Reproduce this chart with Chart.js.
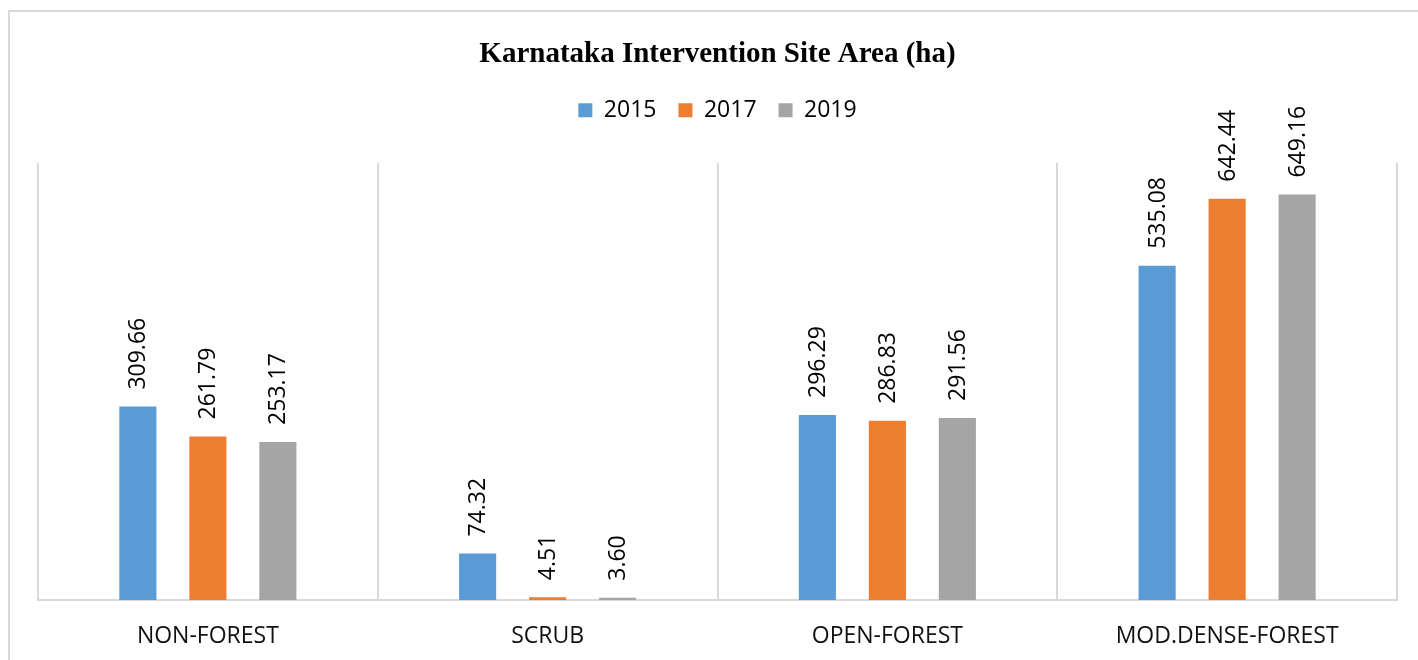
<!DOCTYPE html>
<html>
<head>
<meta charset="utf-8">
<title>Karnataka Intervention Site Area (ha)</title>
<script src="https://cdn.jsdelivr.net/npm/chart.js@4/dist/chart.umd.min.js"></script>
<style>
  html, body { margin: 0; padding: 0; background: #fff; }
  #wrap { width: 1418px; height: 660px; }
</style>
</head>
<body>
<div id="wrap"><canvas id="myChart" width="1418" height="660"></canvas></div>
<script>
let categories = ["NON-FOREST", "SCRUB", "OPEN-FOREST", "MOD.DENSE-FOREST"];
let years = ["2015", "2017", "2019"];
let area2015 = [309.66, 74.32, 296.29, 535.08];
let area2017 = [261.79, 4.51, 286.83, 642.44];
let area2019 = [253.17, 3.60, 291.56, 649.16];
let colors = ["#5B9BD5", "#ED7D31", "#A5A5A5"];

// thin frame round the whole chart
let frame = {
    id: "frame",
    beforeDraw(chart) {
        let ctx = chart.ctx;
        ctx.save();
        ctx.fillStyle = "#fff";
        ctx.fillRect(0, 0, chart.width, chart.height);
        ctx.strokeStyle = "#d9d9d9";
        ctx.lineWidth = 2;
        ctx.beginPath();
        ctx.moveTo(9, chart.height + 5);
        ctx.lineTo(9, 11);
        ctx.lineTo(chart.width + 5, 11);
        ctx.stroke();
        ctx.restore();
    }
};

// extra room between the legend and the plot
let legendGap = {
    id: "legendGap",
    beforeInit(chart) {
        let fit = chart.legend.fit;
        chart.legend.fit = function () {
            fit.call(this);
            this.height += 31;
        };
    }
};

// value written upright above each bar
let barValues = {
    id: "barValues",
    afterDatasetsDraw(chart) {
        let ctx = chart.ctx;
        ctx.save();
        ctx.font = "23px 'Open Sans'";
        ctx.fillStyle = "#000";
        ctx.textAlign = "left";
        ctx.textBaseline = "middle";
        chart.data.datasets.forEach((ds, i) => {
            chart.getDatasetMeta(i).data.forEach((bar, j) => {
                ctx.save();
                ctx.translate(bar.x, bar.y - 17);
                ctx.rotate(-Math.PI / 2);
                ctx.fillText(ds.data[j].toFixed(2), 0, 1);
                ctx.restore();
            });
        });
        ctx.restore();
    }
};

let myChart = document.getElementById("myChart").getContext("2d");

let barChart = new Chart(myChart, {
    type: "bar",
    data: {
        labels: categories,
        datasets: [
            { label: years[0], data: area2015, backgroundColor: colors[0] },
            { label: years[1], data: area2017, backgroundColor: colors[1] },
            { label: years[2], data: area2019, backgroundColor: colors[2] }
        ]
    },
    options: {
        responsive: false,
        animation: false,
        categoryPercentage: 0.618,
        barPercentage: 0.53,
        layout: {
            padding: { left: 38, right: 21, top: 0, bottom: 0 }
        },
        plugins: {
            title: {
                display: true,
                text: "Karnataka Intervention Site Area (ha)",
                color: "#000",
                font: { family: "'Liberation Serif', 'Times New Roman', serif", size: 29, weight: "bold" },
                padding: { top: 37, bottom: 5 }
            },
            legend: {
                labels: {
                    color: "#000",
                    font: { family: "'Open Sans'", size: 23 },
                    boxWidth: 14,
                    boxHeight: 14,
                    padding: 22
                }
            },
            tooltip: { enabled: false }
        },
        scales: {
            x: {
                grid: { color: "#d9d9d9", lineWidth: 2, drawTicks: false },
                border: { color: "#d9d9d9", width: 2 },
                ticks: {
                    color: "#111",
                    font: { family: "'Open Sans'", size: 23 },
                    padding: 23,
                    maxRotation: 0
                },
                afterFit(scale) { scale.height = 60; }
            },
            y: {
                display: false,
                min: 0,
                max: 700
            }
        }
    },
    plugins: [frame, legendGap, barValues]
});
</script>
</body>
</html>
